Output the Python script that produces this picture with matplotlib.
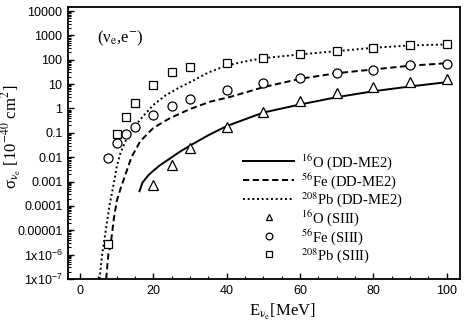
import matplotlib
matplotlib.use("Agg")
import matplotlib.pyplot as plt
from matplotlib.ticker import MultipleLocator, LogLocator, FixedLocator, FixedFormatter, NullFormatter

# ---- data ----
# DD-ME2 curves
o16_x = [16.2, 17.0, 18.6, 20.0, 21.8, 24.5, 27.0, 30.0, 35.0, 40.0, 45.0, 50.0, 60.0, 70.0, 80.0, 90.0, 100.0]
o16_y = [4e-4, 9e-4, 0.0018, 0.0028, 0.0047, 0.0088, 0.016, 0.03, 0.08, 0.19, 0.36, 0.68, 1.46, 2.9, 5.1, 8.0, 12.0]

fe56_x = [7.1, 7.7, 8.4, 9.2, 10.0, 11.0, 12.3, 14.0, 16.4, 20.0, 24.5, 30.0, 35.5, 41.0, 50.0, 60.0, 70.0, 80.0, 90.0, 100.0]
fe56_y = [1e-7, 1e-6, 3e-6, 3e-5, 1.6e-4, 5e-4, 0.0018, 0.01, 0.045, 0.16, 0.4, 0.95, 1.9, 3.0, 7.5, 16.5, 28.0, 40.0, 57.0, 72.0]

pb208_x = [5.3, 6.0, 7.0, 8.0, 9.0, 10.0, 11.0, 12.5, 14.5, 17.0, 20.0, 23.0, 26.5, 30.0, 35.0, 40.0, 45.0, 50.0, 60.0, 70.0, 80.0, 90.0, 100.0]
pb208_y = [1e-7, 1e-6, 1e-5, 1e-4, 6e-4, 0.004, 0.015, 0.05, 0.15, 0.45, 1.4, 3.2, 6.5, 12.0, 30.0, 58.0, 85.0, 116.0, 165.0, 225.0, 310.0, 385.0, 425.0]

# SIII points
o16_s_x = [20, 25, 30, 40, 50, 60, 70, 80, 90, 100]
o16_s_y = [7.2e-4, 0.005, 0.024, 0.18, 0.75, 2.0, 4.2, 7.5, 12.0, 16.5]

fe56_s_x = [7.5, 10, 12.5, 15, 20, 25, 30, 40, 50, 60, 70, 80, 90, 100]
fe56_s_y = [0.0097, 0.039, 0.09, 0.18, 0.55, 1.29, 2.5, 5.8, 11.0, 17.5, 28.0, 39.0, 58.0, 70.0]

pb208_s_x = [7.5, 10, 12.5, 15, 20, 25, 30, 40, 50, 60, 70, 80, 90, 100]
pb208_s_y = [2.7e-6, 0.088, 0.46, 1.7, 9.2, 30.0, 50.0, 74.0, 118.0, 170.0, 230.0, 300.0, 385.0, 440.0]

ytick_vals = [1e-7, 1e-6, 1e-5, 1e-4, 1e-3, 1e-2, 1e-1, 1, 10, 100, 1000, 10000]
ytick_labels = [r'$\mathregular{1x10^{-7}}$', r'$\mathregular{1x10^{-6}}$', '0.00001', '0.0001',
                '0.001', '0.01', '0.1', '1', '10', '100', '1000', '10000']
xtick_vals = [0, 20, 40, 60, 80, 100]

serif = 'Liberation Serif'
sans = 'Liberation Sans'
plt.rcParams['mathtext.fontset'] = 'stix'

fig = plt.figure(figsize=(4.72, 3.34), dpi=100)
ax = fig.add_axes([68/472, 1-279/334, (460-68)/472, (279-7)/334])

lw = 1.4
ax.plot(o16_x, o16_y, color='black', lw=lw, ls='-', label=r'$^{16}$O (DD-ME2)')
ax.plot(fe56_x, fe56_y, color='black', lw=lw, ls=(0, (3.2, 1.8)), label=r'$^{56}$Fe (DD-ME2)')
ax.plot(pb208_x, pb208_y, color='black', lw=lw, ls=(0, (1.0, 1.4)), label=r'$^{208}$Pb (DD-ME2)')

mk = dict(ls='none', mfc='white', mec='black', mew=0.9)
ax.plot(o16_s_x, o16_s_y, marker='^', ms=6.5, label=r'$^{16}$O (SIII)', **mk)
ax.plot(fe56_s_x, fe56_s_y, marker='o', ms=6.5, label=r'$^{56}$Fe (SIII)', **mk)
ax.plot(pb208_s_x, pb208_s_y, marker='s', ms=6.0, label=r'$^{208}$Pb (SIII)', **mk)

ax.set_yscale('log')
ax.set_xlim(-3.3, 103.6)
ax.set_ylim(1e-7, 1.46e4)

ax.yaxis.set_major_locator(FixedLocator(ytick_vals))
ax.yaxis.set_major_formatter(FixedFormatter(ytick_labels))
ax.yaxis.set_minor_locator(LogLocator(base=10, subs=range(2, 10), numticks=30))
ax.yaxis.set_minor_formatter(NullFormatter())
ax.xaxis.set_major_locator(FixedLocator(xtick_vals))
ax.xaxis.set_minor_locator(MultipleLocator(5))

ax.tick_params(which='both', direction='in', top=False, right=False, labelsize=9)
ax.tick_params(which='major', length=4, width=1.0, pad=4)
ax.tick_params(which='minor', length=2.5, width=0.8)
for lab in ax.get_xticklabels() + ax.get_yticklabels():
    lab.set_fontfamily(sans)
for sp in ax.spines.values():
    sp.set_linewidth(1.3)

ax.set_xlabel(r'E$_{\mathrm{ν_e}}$[MeV]', fontfamily=serif, fontsize=12)
ax.xaxis.set_label_coords((282-68)/392, -0.085)
ax.set_ylabel(r'σ$_{\mathrm{ν_e}}$ [10$^{-40}$ cm$^{2}$]', fontfamily=serif, fontsize=12)
ax.yaxis.set_label_coords(-0.112, (279-137)/272)

ax.text(0.074, 0.886, r'(ν$_{\mathrm{e}}$,e$^{-}$)', transform=ax.transAxes, fontfamily=serif,
        fontsize=12, ha='left', va='center')

leg = ax.legend(loc='upper left', bbox_to_anchor=((243-68)/392, (279-152)/272), frameon=False,
                prop={'family': serif, 'size': 10.5}, handlelength=3.5, handletextpad=0.5,
                labelspacing=-0.06, borderpad=0, borderaxespad=0, markerscale=0.75)

fig.savefig('out.png', dpi=100)
